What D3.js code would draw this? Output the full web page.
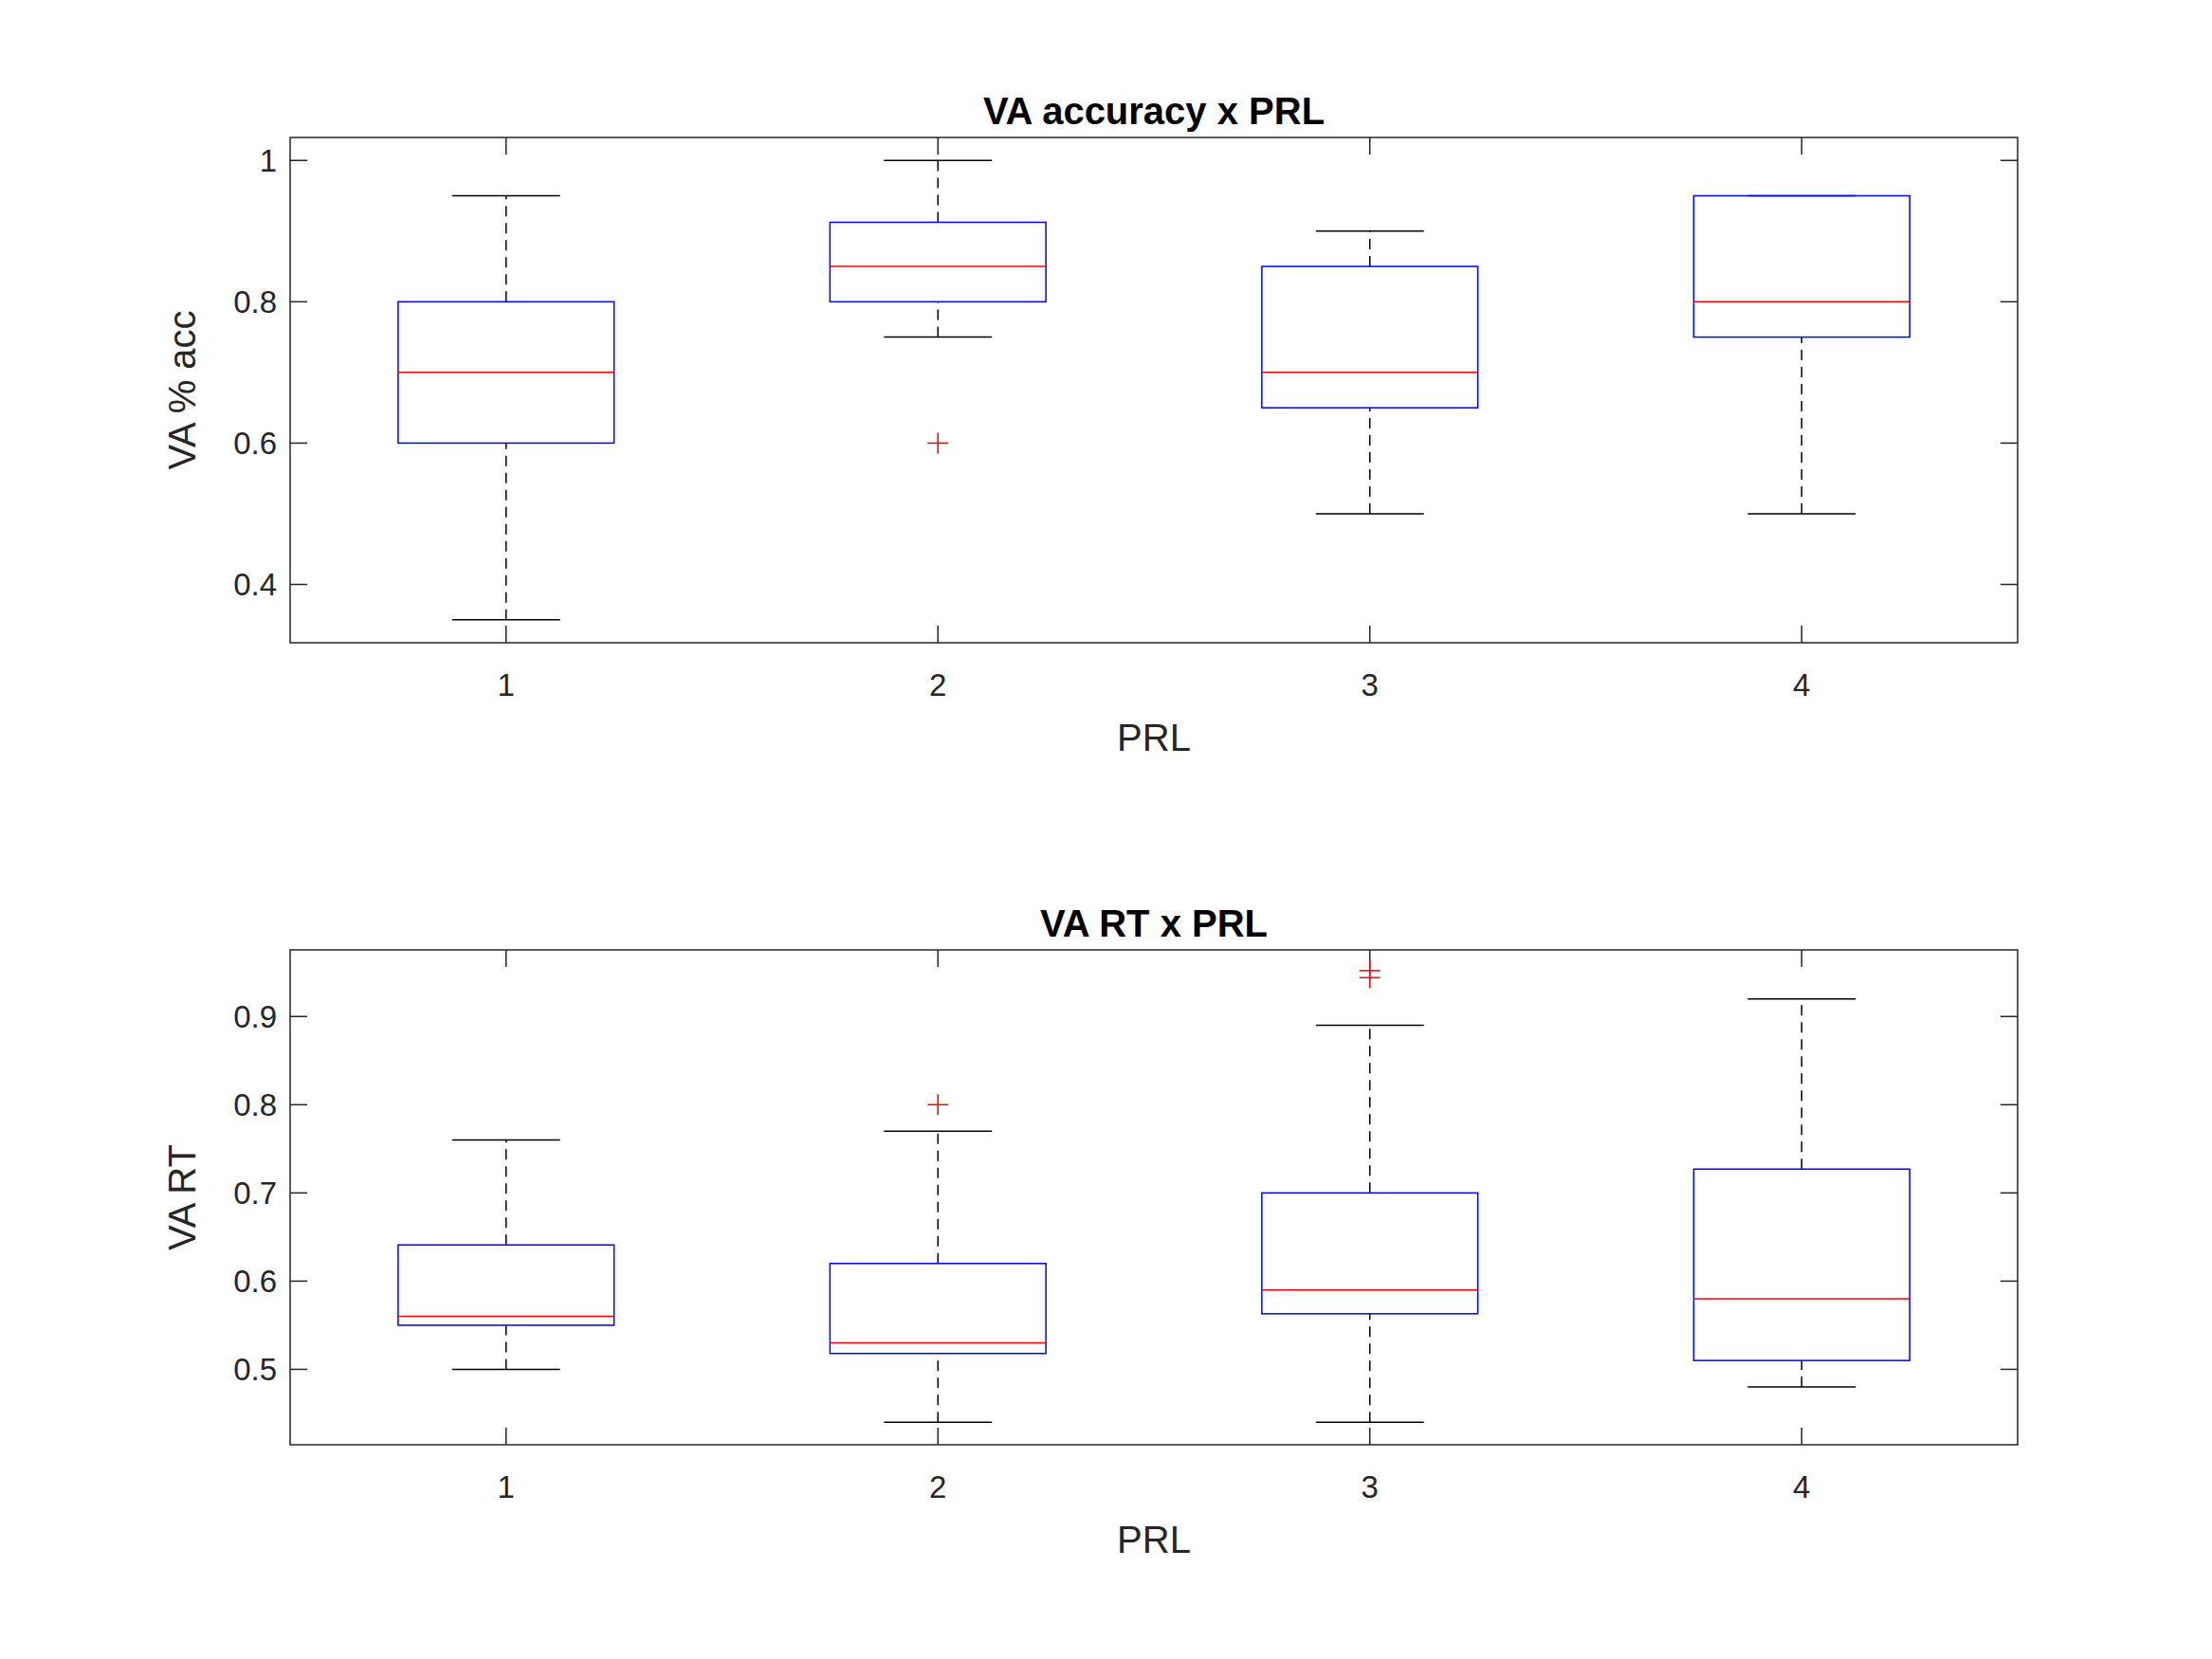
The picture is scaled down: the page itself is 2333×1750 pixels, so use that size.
<!DOCTYPE html>
<html><head><meta charset="utf-8">
<script src="https://cdn.jsdelivr.net/npm/d3@7"></script>
<style>body{margin:0;background:#fff}text{font-family:"Liberation Sans",Arial,sans-serif}</style>
</head><body><svg id="c" width="2333" height="1750"></svg>
<script>
const categories=[1,2,3,4];
// [whiskerLow, q1, median, q3, whiskerHigh]
const accStats=[[0.35,0.6,0.7,0.8,0.95],[0.75,0.8,0.85,0.9125,1.0],[0.5,0.65,0.7,0.85,0.9],[0.5,0.75,0.8,0.95,0.95]];
const accOutliers=[[],[0.6],[],[]];
const rtStats=[[0.5,0.55,0.56,0.641,0.76],[0.44,0.518,0.53,0.62,0.77],[0.44,0.563,0.59,0.70,0.89],[0.48,0.51,0.58,0.727,0.92]];
const rtOutliers=[[],[0.80],[0.944,0.952],[]];
const accTicks=[0.4,0.6,0.8,1];
const rtTicks=[0.5,0.6,0.7,0.8,0.9];
const accTickLabels=["0.4","0.6","0.8","1"];
const rtTickLabels=["0.5","0.6","0.7","0.8","0.9"];

const svg=d3.select("#c");
function panel(o){
  const L=306,R=2128;
  const x=d3.scaleLinear().domain([0.5,4.5]).range([L,R]);
  const y=d3.scaleLinear().domain(o.dom).range([o.bot,o.top]);
  const g=svg.append("g");
  const tl=18;
  // ticks
  o.ticks.forEach((t,i)=>{
    g.append("line").attr("x1",L).attr("x2",L+tl).attr("y1",y(t)).attr("y2",y(t)).attr("stroke","#262626").attr("stroke-width",1.5);
    g.append("line").attr("x1",R).attr("x2",R-tl).attr("y1",y(t)).attr("y2",y(t)).attr("stroke","#262626").attr("stroke-width",1.5);
    g.append("text").attr("x",L-14).attr("y",y(t)).attr("dy","0.35em").attr("text-anchor","end").attr("font-size",33).attr("fill","#262626").text(o.labels[i]);
  });
  categories.forEach(c=>{
    g.append("line").attr("x1",x(c)).attr("x2",x(c)).attr("y1",o.bot).attr("y2",o.bot-tl).attr("stroke","#262626").attr("stroke-width",1.5);
    g.append("line").attr("x1",x(c)).attr("x2",x(c)).attr("y1",o.top).attr("y2",o.top+tl).attr("stroke","#262626").attr("stroke-width",1.5);
    g.append("text").attr("x",x(c)).attr("y",o.bot+44).attr("dy","0.35em").attr("text-anchor","middle").attr("font-size",33).attr("fill","#262626").text(c);
  });
  o.stats.forEach((s,i)=>{
    const c=categories[i],hw=0.25,cw=0.125;
    const dash="11,7";
    g.append("line").attr("x1",x(c)).attr("x2",x(c)).attr("y1",y(s[0])).attr("y2",y(s[1])).attr("stroke","#000").attr("stroke-width",1.5).attr("stroke-dasharray",dash);
    g.append("line").attr("x1",x(c)).attr("x2",x(c)).attr("y1",y(s[3])).attr("y2",y(s[4])).attr("stroke","#000").attr("stroke-width",1.5).attr("stroke-dasharray",dash);
    [s[0],s[4]].forEach(v=>g.append("line").attr("x1",x(c-cw)).attr("x2",x(c+cw)).attr("y1",y(v)).attr("y2",y(v)).attr("stroke","#000").attr("stroke-width",1.5));
    g.append("rect").attr("x",x(c-hw)).attr("width",x(c+hw)-x(c-hw)).attr("y",y(s[3])).attr("height",y(s[1])-y(s[3])).attr("fill","none").attr("stroke","#0000ff").attr("stroke-width",1.5);
    g.append("line").attr("x1",x(c-hw)).attr("x2",x(c+hw)).attr("y1",y(s[2])).attr("y2",y(s[2])).attr("stroke","#ff0000").attr("stroke-width",1.5);
    o.out[i].forEach(v=>{
      g.append("line").attr("x1",x(c)-11).attr("x2",x(c)+11).attr("y1",y(v)).attr("y2",y(v)).attr("stroke","#ff0000").attr("stroke-width",1.5);
      g.append("line").attr("x1",x(c)).attr("x2",x(c)).attr("y1",y(v)-11).attr("y2",y(v)+11).attr("stroke","#ff0000").attr("stroke-width",1.5);
    });
  });
  g.append("rect").attr("x",L).attr("y",o.top).attr("width",R-L).attr("height",o.bot-o.top).attr("fill","none").attr("stroke","#262626").attr("stroke-width",1.5);
  g.append("text").attr("x",(L+R)/2).attr("y",o.top-14).attr("text-anchor","middle").attr("font-size",40).attr("font-weight","bold").attr("fill","#000").text(o.title);
  g.append("text").attr("x",(L+R)/2).attr("y",o.bot+100).attr("dy","0.35em").attr("text-anchor","middle").attr("font-size",40).attr("fill","#262626").text("PRL");
  g.append("text").attr("transform",`translate(192,${(o.top+o.bot)/2}) rotate(-90)`).attr("dy","0.35em").attr("text-anchor","middle").attr("font-size",40).attr("fill","#262626").text(o.ylab);
}
panel({top:145,bot:678,dom:[0.3175,1.0325],ticks:accTicks,labels:accTickLabels,stats:accStats,out:accOutliers,title:"VA accuracy x PRL",ylab:"VA % acc"});
panel({top:1002,bot:1524,dom:[0.4145,0.9755],ticks:rtTicks,labels:rtTickLabels,stats:rtStats,out:rtOutliers,title:"VA RT x PRL",ylab:"VA RT"});
</script></body></html>
